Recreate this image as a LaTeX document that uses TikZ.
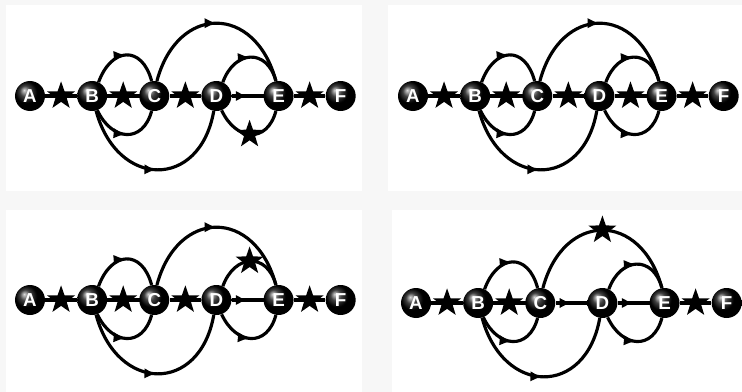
\documentclass[tikz,border=0pt]{standalone}
\usepackage{fontspec}
\setsansfont{Liberation Sans}
\usetikzlibrary{shapes.geometric, arrows.meta, decorations.markings, positioning}

\begin{document}
\begin{tikzpicture}[
    x=0.03cm, y=0.03cm,
    node distance=0.95cm,
    ball/.style={circle, ball color=black, minimum size=0.9cm, inner sep=0, text=white, font=\fontsize{16}{16}\selectfont\sffamily\bfseries},
    link/.style={line width=2.7pt, black},
    starmark/.style={star, star points=5, star point ratio=2.5, fill=black, minimum size=0.88cm, inner sep=0},
    arrowmid/.style={postaction={decorate}, decoration={markings, mark=at position 0.5 with {\arrow{Latex[length=10pt, width=9pt]}}}},
    starmid/.style={postaction={decorate}, decoration={markings, mark=at position 0.5 with {\node[starmark] {};}}}
  ]
    % Background and panels
    \useasboundingbox[fill=gray!6] (0,0) rectangle (742,-392);
    \fill[white] (6,-5) rectangle (362,-191);
    \fill[white] (388,-5) rectangle (742,-191);
    \fill[white] (6,-210) rectangle (362,-392);
    \fill[white] (392,-210) rectangle (742,-392);

    % One network per panel
    \foreach \p/\x/\y/\cd/\de/\ce/\deu/\del in {
        1/30/-96/starmid/arrowmid/arrowmid/arrowmid/starmid,
        2/413/-96/starmid/starmid/arrowmid/arrowmid/arrowmid,
        3/30/-300/starmid/arrowmid/arrowmid/starmid/arrowmid,
        4/416/-303/arrowmid/arrowmid/starmid/arrowmid/arrowmid} {
      % Stations
      \node[ball] (A\p) at (\x,\y) {A};
      \node[ball, right=of A\p] (B\p) {B};
      \node[ball, right=of B\p] (C\p) {C};
      \node[ball, right=of C\p] (D\p) {D};
      \node[ball, right=of D\p] (E\p) {E};
      \node[ball, right=of E\p] (F\p) {F};

      % Main line
      \draw[link, starmid] (A\p) -- (B\p);
      \draw[link, starmid] (B\p) -- (C\p);
      \draw[link, \cd] (C\p) -- (D\p);
      \draw[link, \de] (D\p) -- (E\p);
      \draw[link, starmid] (E\p) -- (F\p);

      % Bypasses
      \draw[link, arrowmid] (B\p.65) to[out=70, in=105, looseness=1.8] (C\p.100);
      \draw[link, arrowmid] (B\p.-70) to[out=-65, in=-105, looseness=1.6] (C\p.-100);
      \draw[link, \ce] (C\p.80) to[out=75, in=105, looseness=1.72] (E\p.100);
      \draw[link, arrowmid] (B\p.-75) to[out=-75, in=-100, looseness=1.75] (D\p.-100);
      \draw[link, \deu] (D\p.65) to[out=70, in=105, looseness=1.65] (E\p.100);
      \draw[link, \del] (D\p.-70) to[out=-65, in=-105, looseness=1.6] (E\p.-100);
    }
  \end{tikzpicture}
\end{document}
